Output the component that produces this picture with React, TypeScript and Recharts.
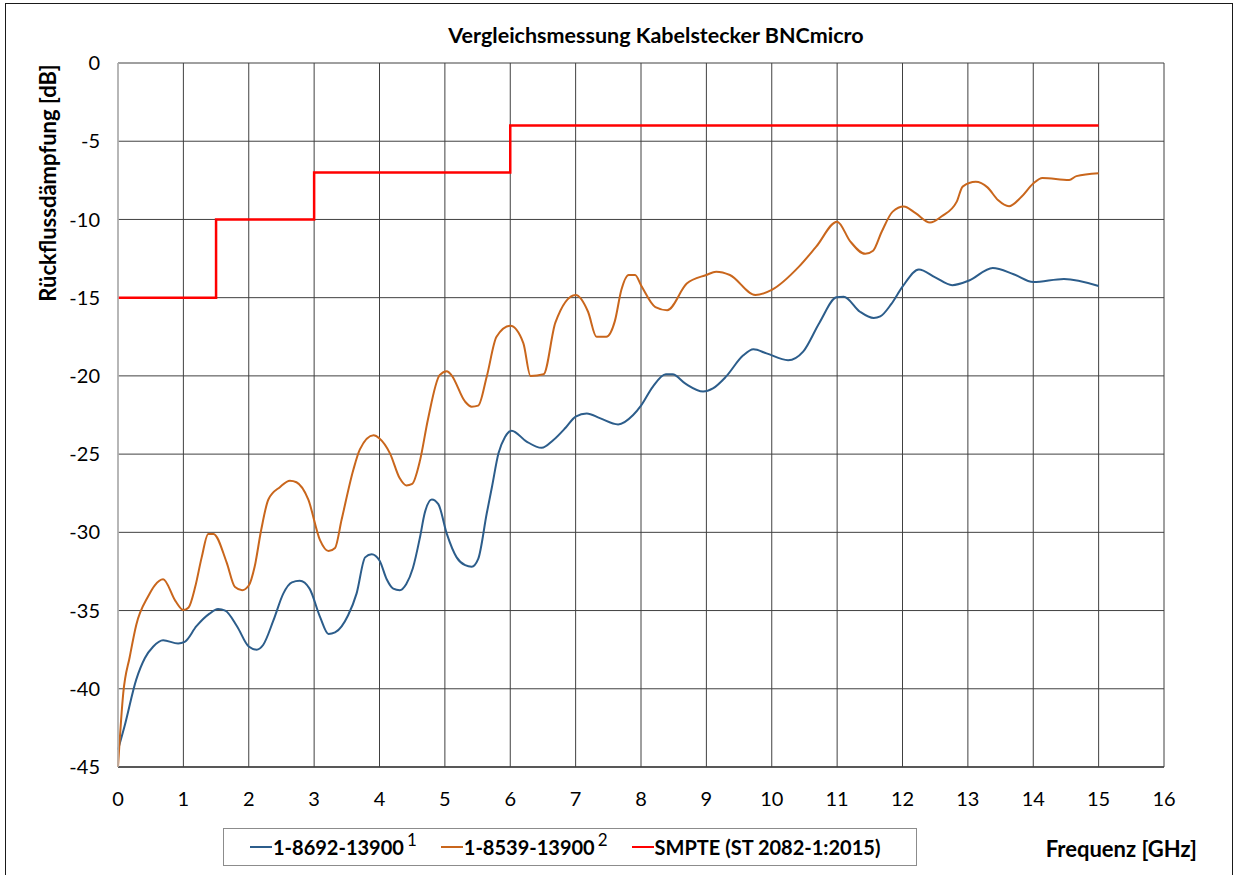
import React from "react";
import { CartesianGrid, Legend, Line, LineChart, XAxis, YAxis } from "recharts";

// frequency [GHz] / return loss [dB]
const freqA = [
  0, 0.1, 0.28, 0.41, 0.54, 0.69, 0.92, 1.02, 1.2, 1.4, 1.53, 1.64, 1.82, 2.0, 2.12, 2.22, 2.38,
  2.53, 2.66, 2.78, 2.93, 3.09, 3.22, 3.32, 3.52, 3.65, 3.78, 3.88, 4.0, 4.11, 4.21, 4.31, 4.41,
  4.51, 4.62, 4.69, 4.8, 4.9, 5.03, 5.18, 5.31, 5.41, 5.51, 5.64, 5.72, 5.82, 5.92, 6.02, 6.25,
  6.48, 6.66, 6.85, 7.0, 7.17, 7.37, 7.65, 7.88, 8.0, 8.18, 8.38, 8.48, 8.68, 8.95, 9.1, 9.3, 9.56,
  9.72, 9.92, 10.25, 10.48, 10.73, 10.99, 11.1, 11.35, 11.56, 11.66, 11.83, 12.0, 12.25, 12.5,
  12.76, 13.02, 13.38, 13.7, 14.0, 14.47, 15.0,
];
const lossA = [
  -43.9, -42.4, -39.4, -38.05, -37.3, -36.9, -37.1, -37.0, -36.0, -35.2, -34.9, -35.0, -36.0, -37.3,
  -37.5, -37.2, -35.6, -33.9, -33.2, -33.1, -33.6, -35.4, -36.5, -36.4, -35.3, -33.9, -31.6, -31.4,
  -31.8, -33.0, -33.6, -33.7, -33.3, -32.3, -30.3, -28.8, -27.9, -28.2, -30.1, -31.6, -32.1, -32.2,
  -31.7, -28.8, -27.1, -24.95, -23.9, -23.5, -24.2, -24.6, -24.1, -23.3, -22.6, -22.4, -22.7, -23.1,
  -22.5, -21.9, -20.7, -19.9, -19.9, -20.5, -21.0, -20.8, -20.05, -18.7, -18.3, -18.56, -19.0,
  -18.45, -16.6, -14.98, -14.94, -15.9, -16.3, -16.2, -15.4, -14.3, -13.2, -13.7, -14.2, -13.9,
  -13.1, -13.5, -14.0, -13.8, -14.25,
];

const freqB = [
  0, 0.08, 0.18, 0.28, 0.46, 0.56, 0.69, 0.88, 1.0, 1.08, 1.18, 1.28, 1.38, 1.46, 1.66, 1.79, 1.9,
  2.0, 2.09, 2.19, 2.3, 2.48, 2.63, 2.73, 2.91, 3.09, 3.22, 3.32, 3.42, 3.6, 3.7, 3.91, 4.0, 4.16,
  4.31, 4.41, 4.5, 4.62, 4.74, 4.92, 5.03, 5.1, 5.31, 5.41, 5.51, 5.64, 5.79, 6.0, 6.2, 6.31, 6.51,
  6.69, 7.0, 7.19, 7.32, 7.47, 7.6, 7.7, 7.81, 7.91, 8.0, 8.22, 8.4, 8.7, 9.0, 9.15, 9.36, 9.75,
  10.0, 10.42, 10.68, 11.0, 11.2, 11.43, 11.55, 11.68, 11.85, 12.02, 12.2, 12.42, 12.6, 12.83,
  12.92, 13.12, 13.3, 13.46, 13.63, 13.82, 14.0, 14.14, 14.55, 14.66, 15.0,
];
const lossB = [
  -45, -40.3, -37.95, -35.9, -34.1, -33.4, -33.0, -34.4, -34.97, -34.8, -33.5, -31.6, -30.1, -30.1,
  -31.9, -33.5, -33.7, -33.4, -32.2, -29.85, -27.9, -27.1, -26.7, -26.8, -27.9, -30.5, -31.2, -31.0,
  -29.2, -26.0, -24.7, -23.8, -24.0, -24.95, -26.55, -27.0, -26.9, -25.4, -22.8, -19.95, -19.7,
  -19.95, -21.65, -21.97, -21.9, -20.05, -17.5, -16.8, -17.9, -20.0, -19.9, -16.6, -14.83, -15.9,
  -17.5, -17.5, -16.5, -14.5, -13.55, -13.55, -14.2, -15.6, -15.8, -14.1, -13.55, -13.34, -13.55,
  -14.83, -14.5, -13.0, -11.74, -10.14, -11.4, -12.2, -12.0, -10.8, -9.5, -9.18, -9.6, -10.2, -9.8,
  -8.86, -7.9, -7.59, -7.95, -8.76, -9.15, -8.55, -7.7, -7.35, -7.48, -7.23, -7.05,
];

// SMPTE limit mask
const freqLimit = [0, 1.5, 1.5, 3, 3, 6, 6, 15];
const lossLimit = [-15, -15, -10, -10, -7, -7, -4, -4];

const seriesNames = ["1-8692-13900", "1-8539-13900", "SMPTE (ST 2082-1:2015)"];
const seriesNotes = ["1", "2", ""];
const seriesColors = ["#2c5d8b", "#c9661c", "#ff0000"];

const xTicks = [0, 1, 2, 3, 4, 5, 6, 7, 8, 9, 10, 11, 12, 13, 14, 15, 16];
const yTicks = [0, -5, -10, -15, -20, -25, -30, -35, -40, -45];

const FONT = "Lato, 'Open Sans', sans-serif";

const toPoints = (f: number[], v: number[]) => f.map((x, i) => ({ f: x, v: v[i] }));
const dataA = toPoints(freqA, lossA);
const dataB = toPoints(freqB, lossB);
const dataLimit = toPoints(freqLimit, lossLimit);

function YTitle() {
  return (
    <text
      x={47}
      y={183}
      transform="rotate(-90 47 183)"
      textAnchor="middle"
      dominantBaseline="central"
      fontFamily={FONT}
      fontWeight={700}
      fontSize={22}
      fill="#000"
    >
      Rückflussdämpfung [dB]
    </text>
  );
}

function XTitle() {
  return (
    <text x={1197} y={857} textAnchor="end" fontFamily={FONT} fontWeight={700} fontSize={22} fill="#000">
      Frequenz [GHz]
    </text>
  );
}

function LegendBox({ payload }: { payload?: Array<{ value: string; color: string }> }) {
  // keep the series order of the chart, not the alphabetical one
  const items = [...(payload ?? [])].sort(
    (a, b) => seriesNames.indexOf(a.value) - seriesNames.indexOf(b.value),
  );
  return (
    <div
      style={{
        boxSizing: "border-box",
        width: 694,
        height: 38,
        border: "1px solid #8c8c8c",
        display: "flex",
        alignItems: "center",
        paddingLeft: 26,
        fontFamily: FONT,
        fontWeight: 700,
        fontSize: 20,
        color: "#000",
      }}
    >
      {items.map((p) => {
        const note = seriesNotes[seriesNames.indexOf(p.value)];
        return (
          <div key={p.value} style={{ display: "flex", alignItems: "center", marginRight: 24 }}>
            <span style={{ display: "inline-block", width: 22, height: 2, background: p.color, marginRight: 1 }} />
            <span>{p.value}</span>
            {note && (
              <span style={{ fontWeight: 400, fontSize: 17, marginLeft: 3, position: "relative", top: -8 }}>
                {note}
              </span>
            )}
          </div>
        );
      })}
    </div>
  );
}

export default function App() {
  return (
    <div style={{ position: "fixed", left: 0, top: 0, width: 1237, height: 875, background: "#fff", overflow: "hidden" }}>
      <div
        style={{
          position: "absolute",
          left: 5,
          top: 3,
          width: 1228,
          height: 900,
          border: "1px solid #1a1a1a",
          boxSizing: "border-box",
        }}
      />
      <div
        style={{
          position: "absolute",
          left: 356,
          top: 24,
          width: 600,
          textAlign: "center",
          fontFamily: FONT,
          fontWeight: 700,
          fontSize: 21.5,
          lineHeight: "22px",
          color: "#000",
        }}
      >
        Vergleichsmessung Kabelstecker BNCmicro
      </div>
      <div style={{ position: "absolute", left: 0, top: 0 }}>
        <LineChart width={1237} height={875} margin={{ top: 63, right: 73, bottom: 68, left: 0 }}>
          <CartesianGrid stroke="#404040" strokeWidth={1} />
          <XAxis
            type="number"
            dataKey="f"
            domain={[0, 16]}
            ticks={xTicks}
            interval={0}
            height={40}
            tickSize={0}
            tickMargin={25}
            axisLine={{ stroke: "#404040", strokeWidth: 1.5 }}
            tick={{ fill: "#000", fontSize: 20, fontFamily: FONT }}
            label={<XTitle />}
          />
          <YAxis
            type="number"
            domain={[-45, 0]}
            ticks={yTicks}
            interval={0}
            width={118}
            tickSize={0}
            tickMargin={18}
            axisLine={{ stroke: "#bfbfbf", strokeWidth: 1.5 }}
            tick={{ fill: "#000", fontSize: 20, fontFamily: FONT }}
            label={<YTitle />}
          />
          <Line
            data={dataA}
            dataKey="v"
            name={seriesNames[0]}
            type="monotone"
            stroke={seriesColors[0]}
            strokeWidth={2}
            dot={false}
            isAnimationActive={false}
          />
          <Line
            data={dataB}
            dataKey="v"
            name={seriesNames[1]}
            type="monotone"
            stroke={seriesColors[1]}
            strokeWidth={2}
            dot={false}
            isAnimationActive={false}
          />
          <Line
            data={dataLimit}
            dataKey="v"
            name={seriesNames[2]}
            type="linear"
            stroke={seriesColors[2]}
            strokeWidth={2.5}
            dot={false}
            isAnimationActive={false}
          />
          <Legend
            layout="vertical"
            align="center"
            verticalAlign="middle"
            wrapperStyle={{ left: 223, top: 828, width: 694, height: 38 }}
            content={<LegendBox />}
          />
        </LineChart>
      </div>
    </div>
  );
}
